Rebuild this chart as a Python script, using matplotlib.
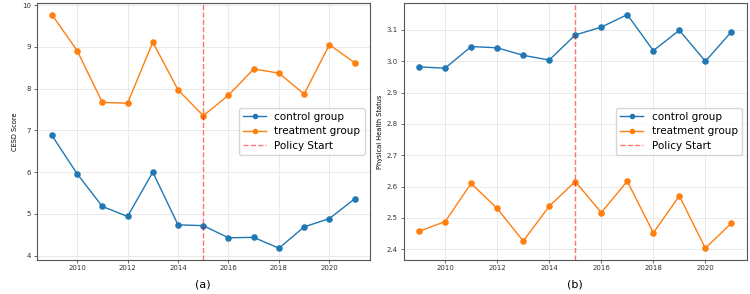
import matplotlib.pyplot as plt
import numpy as np

# jaren
years = np.arange(2009, 2022)

# (a) CESD
cesd_control = [6.88, 5.96, 5.18, 4.94, 6.00, 4.74, 4.72, 4.43, 4.44, 4.18, 4.69, 4.89, 5.36]
cesd_treatment = [9.77, 8.91, 7.67, 7.65, 9.11, 7.97, 7.35, 7.84, 8.47, 8.37, 7.87, 9.05, 8.62]

# (b) physical health
phys_control = [2.982, 2.978, 3.047, 3.043, 3.019, 3.004, 3.084, 3.109, 3.149, 3.034, 3.099, 3.000, 3.094]
phys_treatment = [2.457, 2.488, 2.610, 2.530, 2.426, 2.537, 2.616, 2.517, 2.617, 2.452, 2.570, 2.403, 2.483]

policy_year = 2015

fig = plt.figure(figsize=(7.5, 2.94), dpi=100)
ax1 = fig.add_axes([0.049, 0.116, 0.444, 0.874])
ax2 = fig.add_axes([0.538, 0.116, 0.458, 0.874])


def panel(ax, control, treatment, ylabel, caption):
    ax.plot(years, control, marker='o', markersize=3.7, linewidth=1, color='#1f77b4', label='control group')
    ax.plot(years, treatment, marker='o', markersize=3.7, linewidth=1, color='#ff7f0e', label='treatment group')
    ax.axvline(policy_year, color='red', linestyle='--', linewidth=1, alpha=0.55, label='Policy Start')
    ax.set_ylabel(ylabel, fontsize=4.8, labelpad=3)
    ax.tick_params(labelsize=5, length=2, width=0.5, pad=2, colors='#333333')
    ax.grid(True, color='#e6e6e6', linewidth=0.6)
    ax.set_axisbelow(True)
    for s in ax.spines.values():
        s.set_color('#555555')
        s.set_linewidth(0.8)
    ax.legend(loc='center right', fontsize=7.5, handlelength=2.2, borderpad=0.4,
              labelspacing=0.45, markerscale=0.8)
    ax.text(0.5, -0.075, caption, transform=ax.transAxes, ha='center', va='top', fontsize=8)


panel(ax1, cesd_control, cesd_treatment, 'CESD Score', '(a)')
panel(ax2, phys_control, phys_treatment, 'Physical Health Status', '(b)')

fig.savefig('out.png', dpi=100)
